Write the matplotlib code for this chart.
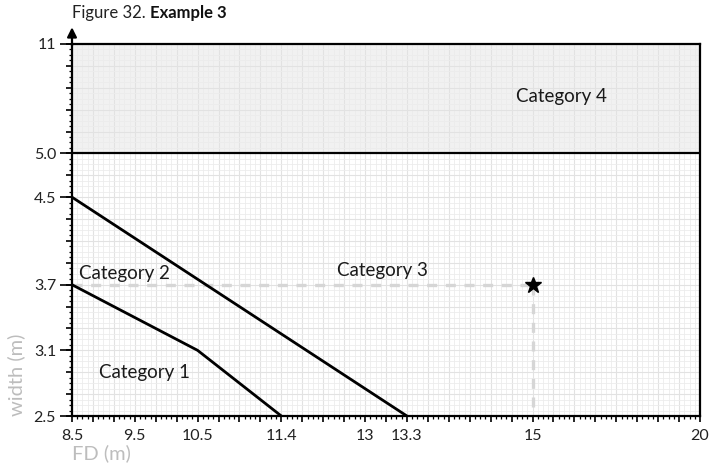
import numpy as np
import matplotlib
matplotlib.use("Agg")
import matplotlib.pyplot as plt
from matplotlib.ticker import FixedLocator, FixedFormatter

# axis break points (the chart uses a stretched, piecewise scale)
x_values = [8.5, 9.5, 10.5, 11.4, 13, 13.3, 15, 20]
x_units = [0, 3, 6, 10, 14, 16, 22, 30]
x_labels = ["8.5", "9.5", "10.5", "11.4", "13", "13.3", "15", "20"]
y_values = [2.5, 3.1, 3.7, 4.5, 5.0, 11]
y_units = [0, 3, 6, 10, 12, 17]
y_labels = ["2.5", "3.1", "3.7", "4.5", "5.0", "11"]

# boundary lines
upper_x = [8.5, 13.3]
upper_y = [4.5, 2.5]
lower_x = [8.5, 10.5, 11.4]
lower_y = [3.7, 3.1, 2.5]
cat4_floor = 5.0
cat4_top = 11
point_x, point_y = 15, 3.7


def fwd(vals, units):
    return lambda v: np.interp(v, vals, units)


def inv(vals, units):
    return lambda u: np.interp(u, units, vals)


fig = plt.figure(figsize=(7.1, 4.66), dpi=100)
ax = fig.add_axes([72 / 710, 50 / 466, 628 / 710, 372 / 466])
ax.set_xscale("function", functions=(fwd(x_values, x_units), inv(x_values, x_units)))
ax.set_yscale("function", functions=(fwd(y_values, y_units), inv(y_values, y_units)))
ax.set_xlim(x_values[0], x_values[-1])
ax.set_ylim(y_values[0], y_values[-1])

xi = inv(x_values, x_units)
yi = inv(y_values, y_units)
xmaj = np.arange(0, x_units[-1] + 1)
ymaj = np.arange(0, y_units[-1] + 1)
ax.xaxis.set_major_locator(FixedLocator(xi(xmaj)))
ax.xaxis.set_minor_locator(FixedLocator(xi(np.arange(0, x_units[-1] + 0.01, 0.25))))
ax.yaxis.set_major_locator(FixedLocator(yi(ymaj)))
ax.yaxis.set_minor_locator(FixedLocator(yi(np.arange(0, y_units[-1] + 0.01, 0.25))))
ax.xaxis.set_major_formatter(FixedFormatter(
    [x_labels[x_units.index(u)] if u in x_units else "" for u in xmaj]))
ax.yaxis.set_major_formatter(FixedFormatter(
    [y_labels[y_units.index(u)] if u in y_units else "" for u in ymaj]))

ax.tick_params(which="major", length=4.5, width=1.2, color="black", pad=5)
ax.tick_params(which="minor", length=2.2, width=0.9, color="black")
ax.tick_params(axis="y", which="major", pad=7)
for lab in ax.get_xticklabels() + ax.get_yticklabels():
    lab.set_fontfamily(["Lato", "DejaVu Sans"])
    lab.set_fontsize(11.5)
    lab.set_color("#222222")

# longer ticks for the labelled y values
ax.plot([x_values[0]] * len(y_values), y_values, ls="none", marker=0,
        markersize=9, markeredgewidth=1.2, color="black", clip_on=False, zorder=5)

# grid
ax.set_axisbelow(True)
ax.grid(which="major", color="#e2e2e2", lw=0.8)
ax.grid(which="minor", color="#ececec", lw=0.6)

for s in ax.spines.values():
    s.set_color("black")
    s.set_linewidth(1.6)

# category 4 band
ax.axhspan(cat4_floor, cat4_top, color="#f1f1f1", zorder=0.2, lw=0)
ax.axhline(cat4_floor, color="black", lw=1.6, zorder=3)

# boundaries
ax.plot(upper_x, upper_y, color="black", lw=2, solid_capstyle="butt", zorder=3)
ax.plot(lower_x, lower_y, color="black", lw=2, solid_capstyle="butt", zorder=3)

# guide to the example point
ax.plot([x_values[0], point_x], [point_y, point_y], color="#d6d6d6", lw=2.4,
        dashes=(3, 2.6), zorder=2)
ax.plot([point_x, point_x], [point_y, y_values[0]], color="#d6d6d6", lw=2.4,
        dashes=(3, 2.6), zorder=2)
ax.plot(point_x, point_y, marker="*", color="black", markersize=12, zorder=4,
        clip_on=False)

cat_font = dict(family=["Lato", "DejaVu Sans"], size=13.5, color="#1a1a1a",
                ha="center", va="center", transform=ax.transAxes)
ax.text(0.115, 0.116, "Category 1", **cat_font)
ax.text(0.083, 0.384, "Category 2", **cat_font)
ax.text(0.495, 0.392, "Category 3", **cat_font)
ax.text(0.78, 0.858, "Category 4", **cat_font)

# arrow on top of the y axis
ax.annotate("", xy=(0, 1.045), xytext=(0, 0.995), xycoords="axes fraction",
            arrowprops=dict(arrowstyle="-|>", color="black", lw=1.6,
                            mutation_scale=14, shrinkA=0, shrinkB=0))

lab_font = dict(family=["Lato", "DejaVu Sans"], size=14.5, color="#bdbdbd")
ax.set_xlabel("FD (m)", loc="left", labelpad=1, **lab_font)
ax.set_ylabel("width (m)", loc="bottom", labelpad=6, **lab_font)

# title: plain prefix + bold name
title_font = ["Lato", "DejaVu Sans"]
t1 = fig.text(72 / 710, 1 - 13 / 466, "Figure 32. ", family=title_font,
              size=12, color="#222222", va="center", ha="left")
fig.canvas.draw()
bb = t1.get_window_extent()
fig.text(bb.x1 / fig.bbox.width, 1 - 13 / 466, "Example 3", family=title_font,
         size=12, weight="bold", color="#111111", va="center", ha="left")

fig.savefig("out.png", dpi=100)
